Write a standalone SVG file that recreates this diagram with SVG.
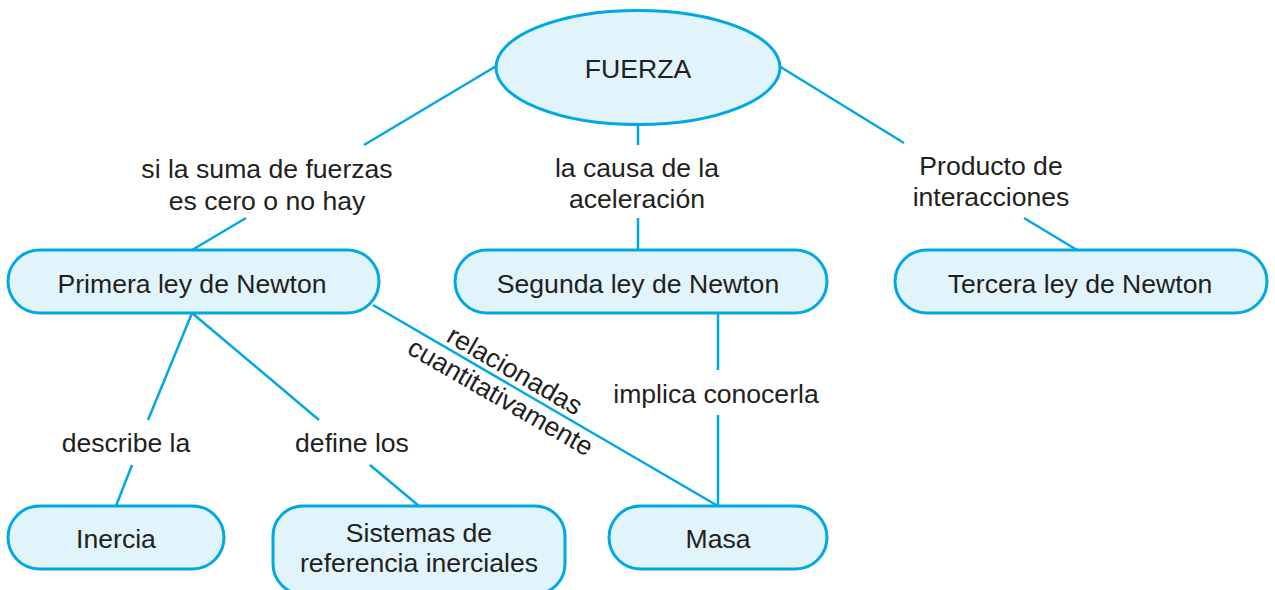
<svg xmlns="http://www.w3.org/2000/svg" width="1275" height="590" viewBox="0 0 1275 590">
<style>
.node{fill:#e1f3fb;stroke:#00a8e4;stroke-width:3}
.conn line{stroke:#00a8e4;stroke-width:2.5;stroke-linecap:butt}
text{font-family:"Liberation Sans",Arial,Helvetica,sans-serif;font-size:26.6px;fill:#231f20;text-anchor:middle}
</style>
<rect width="1275" height="590" fill="#ffffff"/>
<g id="connectors" class="conn">
<line x1="498" y1="65" x2="364" y2="145"/>
<line x1="246" y1="218" x2="192" y2="250"/>
<line x1="638" y1="124" x2="638" y2="145"/>
<line x1="638" y1="218" x2="638" y2="250"/>
<line x1="779" y1="66" x2="904" y2="143"/>
<line x1="1024" y1="218" x2="1077" y2="250"/>
<line x1="192" y1="313" x2="148" y2="420"/>
<line x1="132" y1="465" x2="116" y2="506"/>
<line x1="192" y1="313" x2="319" y2="420"/>
<line x1="370" y1="465" x2="419" y2="506"/>
<line x1="373" y1="305" x2="718" y2="506"/>
<line x1="718" y1="313" x2="718" y2="370"/>
<line x1="718" y1="415" x2="718" y2="506"/>
</g>
<g id="labels">
<text x="267" y="178">si la suma de fuerzas</text>
<text x="267" y="210">es cero o no hay</text>
<text x="637" y="177">la causa de la</text>
<text x="637" y="208">aceleración</text>
<text x="991" y="175">Producto de</text>
<text x="991" y="206">interacciones</text>
<text x="126" y="452">describe la</text>
<text x="352" y="452">define los</text>
<text x="716" y="403">implica conocerla</text>
<text transform="translate(510.3,378.3) rotate(29.9)" x="0" y="0">relacionadas</text>
<text transform="translate(496.2,404.8) rotate(29.9)" x="0" y="0">cuantitativamente</text>
</g>
<g id="fuerza">
<ellipse class="node" cx="638" cy="67.5" rx="142" ry="57"/>
<text x="638" y="78">FUERZA</text>
</g>
<g id="primera">
<rect class="node" x="8" y="250" width="371" height="63" rx="31.5"/>
<text x="192" y="293">Primera ley de Newton</text>
</g>
<g id="segunda">
<rect class="node" x="455" y="250" width="372" height="63" rx="31.5"/>
<text x="638" y="293">Segunda ley de Newton</text>
</g>
<g id="tercera">
<rect class="node" x="895" y="250" width="372" height="63" rx="31.5"/>
<text x="1080" y="293">Tercera ley de Newton</text>
</g>
<g id="inercia">
<rect class="node" x="8" y="506" width="216" height="63" rx="31.5"/>
<text x="116" y="548">Inercia</text>
</g>
<g id="sistemas">
<rect class="node" x="273" y="506" width="292" height="88" rx="30"/>
<text x="419" y="542">Sistemas de</text>
<text x="419" y="572">referencia inerciales</text>
</g>
<g id="masa">
<rect class="node" x="609" y="506" width="218" height="63" rx="31.5"/>
<text x="718" y="548">Masa</text>
</g>
</svg>
